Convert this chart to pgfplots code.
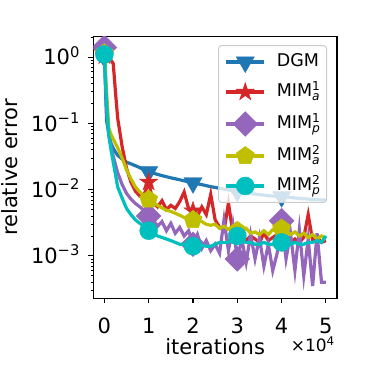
\documentclass[border=0pt]{standalone}
\usepackage{fontspec}
\setmainfont{DejaVu Sans}
\usepackage{amsmath}
\usepackage{pgfplots}
\pgfplotsset{compat=1.18}
\usepackage{pgfplotstable}
\usetikzlibrary{plotmarks}

\definecolor{cblue}{HTML}{1F77B4}
\definecolor{cred}{HTML}{D62728}
\definecolor{cpurple}{HTML}{9467BD}
\definecolor{cyellow}{rgb}{0.75,0.75,0}
\definecolor{ccyan}{rgb}{0,0.75,0.75}

\pgfdeclareplotmark{fstar}{%
  \pgfpathmoveto{\pgfpointpolar{90}{\pgfplotmarksize}}%
  \pgfpathlineto{\pgfpointpolar{126}{0.382*\pgfplotmarksize}}%
  \pgfpathlineto{\pgfpointpolar{162}{\pgfplotmarksize}}%
  \pgfpathlineto{\pgfpointpolar{198}{0.382*\pgfplotmarksize}}%
  \pgfpathlineto{\pgfpointpolar{234}{\pgfplotmarksize}}%
  \pgfpathlineto{\pgfpointpolar{270}{0.382*\pgfplotmarksize}}%
  \pgfpathlineto{\pgfpointpolar{306}{\pgfplotmarksize}}%
  \pgfpathlineto{\pgfpointpolar{342}{0.382*\pgfplotmarksize}}%
  \pgfpathlineto{\pgfpointpolar{18}{\pgfplotmarksize}}%
  \pgfpathlineto{\pgfpointpolar{54}{0.382*\pgfplotmarksize}}%
  \pgfpathclose
  \pgfusepathqfillstroke
}

\pgfplotstableread{
t    dgm     ra      pp       ya      cp
0    1.0     1.05    1.4      1.15    1.1
0.05 0.11    1.0     0.16     0.3     0.2
0.1  0.07    0.95    0.07     0.085   0.065
0.15 0.05    0.9     0.045    0.068   0.04
0.2  0.042   0.8     0.032    0.058   0.026
0.25 0.037   0.3     0.024    0.05    0.017
0.3  0.033   0.12    0.018    0.043   0.011
0.4  0.029   0.045   0.012    0.03    0.0075
0.5  0.026   0.021   0.0088   0.02    0.0052
0.6  0.0245  0.013   0.0072   0.0145  0.0042
0.7  0.023   0.0095  0.0062   0.011   0.0035
0.8  0.0215  0.008   0.0055   0.0092  0.0031
0.9  0.0198  0.0085  0.0048   0.0079  0.0028
1.0  0.0186  0.013   0.0040   0.0071  0.0024
1.1  0.0178  0.0065  0.0035   0.0064  0.0022
1.2  0.0170  0.0055  0.0028   0.0058  0.0020
1.3  0.0163  0.0068  0.0033   0.0053  0.0019
1.4  0.0157  0.0050  0.0024   0.0049  0.0018
1.5  0.0151  0.0058  0.0031   0.0047  0.0017
1.6  0.0146  0.0052  0.0022   0.0044  0.0016
1.7  0.0141  0.0066  0.0027   0.0041  0.0015
1.8  0.0136  0.0092  0.0020   0.0038  0.0015
1.9  0.0131  0.0052  0.0024   0.0036  0.0014
2.0  0.0127  0.0048  0.0015   0.0035  0.0014
2.1  0.0123  0.0040  0.0021   0.0033  0.0014
2.2  0.0119  0.0055  0.0013   0.0033  0.00145
2.3  0.0115  0.0042  0.0017   0.0030  0.0014
2.4  0.0111  0.0085  0.0012   0.0029  0.0014
2.5  0.0108  0.0035  0.0015   0.0030  0.0015
2.6  0.0105  0.0027  0.0011   0.0026  0.0016
2.7  0.0102  0.0024  0.0035   0.0028  0.0016
2.8  0.0099  0.0063  0.0012   0.0025  0.0016
2.9  0.0096  0.0022  0.0030   0.0026  0.0018
3.0  0.0094  0.0020  0.0009   0.0024  0.0020
3.1  0.0092  0.0021  0.0018   0.0024  0.0017
3.2  0.0090  0.0017  0.0008   0.0026  0.0016
3.3  0.0088  0.0020  0.0021   0.0022  0.0016
3.4  0.0086  0.0018  0.0009   0.0023  0.0015
3.5  0.0084  0.0016  0.0019   0.0021  0.0015
3.6  0.0083  0.0022  0.0007   0.0024  0.0016
3.7  0.0081  0.0017  0.0015   0.0021  0.0015
3.8  0.0080  0.0019  0.0006   0.0025  0.0015
3.9  0.0079  0.0021  0.0011   0.0023  0.0015
4.0  0.0078  0.0017  0.0034   0.0026  0.0016
4.1  0.0077  0.0020  0.0009   0.0024  0.0015
4.2  0.0076  0.0016  0.0022   0.0021  0.0015
4.3  0.0075  0.0018  0.0006   0.0023  0.0016
4.4  0.0074  0.0016  0.0025   0.0020  0.0015
4.5  0.0073  0.0019  0.0005   0.0022  0.0015
4.6  0.0072  0.0042  0.0018   0.0019  0.0016
4.7  0.0071  0.0017  0.00035  0.0021  0.0016
4.8  0.0071  0.0019  0.0022   0.0018  0.0017
4.9  0.0070  0.0016  0.0004   0.0020  0.0016
5.0  0.0070  0.0017  0.0004   0.0018  0.0020
}\data

\newcommand{\lfont}{\fontsize{21}{25}\selectfont}

\begin{document}
\begin{tikzpicture}
\useasboundingbox (0,0) rectangle (374pt,374pt);
\begin{axis}[
  at={(93.3pt,75.7pt)}, anchor=south west,
  scale only axis, width=243.7pt, height=261.6pt,
  ymode=log,
  xmin=-0.25, xmax=5.25, ymin=2.29e-4, ymax=2.04,
  xtick={0,1,2,3,4,5},
  ytick={1e-3,1e-2,1e-1,1},
  yticklabels={10\textsuperscript{−3},10\textsuperscript{−2},10\textsuperscript{−1},10\textsuperscript{0}},
  minor ytick={3e-4,4e-4,5e-4,6e-4,7e-4,8e-4,9e-4,2e-3,3e-3,4e-3,5e-3,6e-3,7e-3,8e-3,9e-3,2e-2,3e-2,4e-2,5e-2,6e-2,7e-2,8e-2,9e-2,0.2,0.3,0.4,0.5,0.6,0.7,0.8,0.9,2},
  /pgf/number format/assume math mode=true,
  tick align=outside, tick pos=left,
  major tick length=4.9pt, minor tick length=2.8pt,
  every tick/.style={black, line width=1.1pt},
  minor tick style={line width=0.85pt},
  axis line style={line width=1.1pt},
  tick label style={font=\lfont},
  xticklabel style={anchor=base, inner sep=0pt, yshift=-30pt},
  yticklabel style={anchor=base east, inner sep=0pt, xshift=-8.3pt, yshift=-7.6pt},
  xlabel={iterations},
  ylabel={relative error},
  xlabel style={font=\lfont, at={(axis description cs:0.5,-0.215)}, anchor=base, inner sep=0pt},
  ylabel style={font=\lfont, at={(axis description cs:-0.311,0.5)}, anchor=south, inner sep=0pt, rotate=0},
  clip marker paths=true,
  legend cell align=left,
  legend style={at={(0.959,0.968)}, anchor=north east,
    font=\fontsize{17.5}{21}\selectfont,
    draw=black!20, line width=1pt, fill=white, fill opacity=0.8, text opacity=1, draw opacity=1,
    rounded corners=3pt, inner sep=6pt, row sep=9pt,
    nodes={inner sep=0pt, text height=15pt, text depth=6pt},
    /tikz/every odd column/.append style={column sep=11pt}},
  legend image code/.code={%
    \draw[mark indices={2}, fill opacity=1, draw opacity=1]
      plot coordinates {(0pt,0pt) (19pt,0pt) (38pt,0pt)};
  },
  every axis plot/.append style={line width=3.2pt},
]
\addplot[cblue, mark=triangle*, mark size=10.5pt, mark indices={1,14,24,34,44},
  mark options={solid, rotate=180, fill=cblue, draw=cblue, line width=0.4pt}]
  table[x=t, y=dgm] {\data};
\addlegendentry{DGM}
\addplot[cred, mark=fstar, mark size=9.5pt, mark indices={1,14,24,34,44},
  mark options={solid, fill=cred, draw=cred, line width=0.4pt}]
  table[x=t, y=ra] {\data};
\addlegendentry{MIM$^{\text{1}}_{\text{\itshape a}}$}
\addplot[cpurple, mark=square*, mark size=8.8pt, mark indices={1,14,24,34,44},
  mark options={solid, rotate=45, fill=cpurple, draw=cpurple, line width=0.4pt}]
  table[x=t, y=pp] {\data};
\addlegendentry{MIM$^{\text{1}}_{\text{\itshape p}}$}
\addplot[cyellow, mark=pentagon*, mark size=9.5pt, mark indices={1,14,24,34,44},
  mark options={solid, fill=cyellow, draw=cyellow, line width=0.4pt}]
  table[x=t, y=ya] {\data};
\addlegendentry{MIM$^{\text{2}}_{\text{\itshape a}}$}
\addplot[ccyan, mark=*, mark size=9pt, mark indices={1,14,24,34,44},
  mark options={solid, fill=ccyan, draw=ccyan, line width=0.4pt}]
  table[x=t, y=cp] {\data};
\addlegendentry{MIM$^{\text{2}}_{\text{\itshape p}}$}
\end{axis}
\node[anchor=base east, inner sep=0pt, font=\fontsize{17}{20}\selectfont]
  at ([xshift=-2pt, yshift=-53.4pt]current axis.south east) {×10\textsuperscript{4}};
\end{tikzpicture}
\end{document}
